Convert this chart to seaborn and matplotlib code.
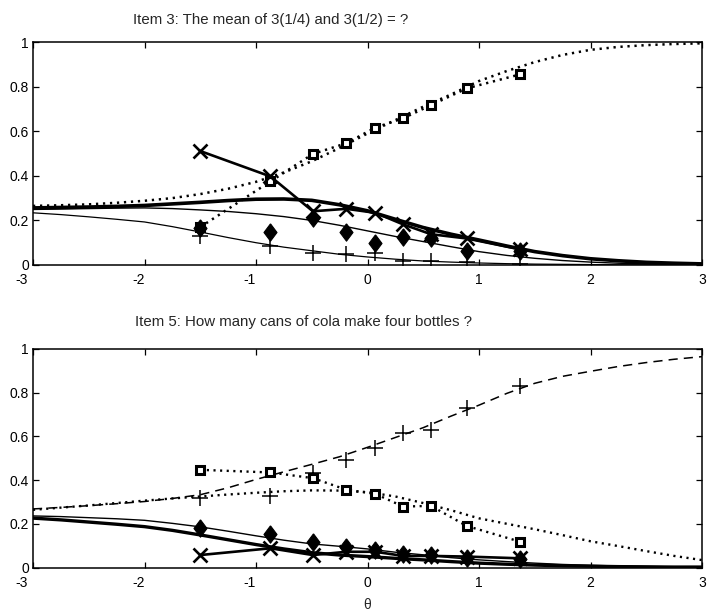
import matplotlib
matplotlib.use("Agg")
import matplotlib.pyplot as plt
from matplotlib.transforms import ScaledTranslation
import seaborn as sns

# Ability scale on which the option-response curves are evaluated
theta_grid = [-3.0, -2.75, -2.5, -2.25, -2.0, -1.75, -1.5, -1.25, -1.0, -0.75, -0.5, -0.25,
              0.0, 0.25, 0.5, 0.75, 1.0, 1.25, 1.5, 1.75, 2.0, 2.25, 2.5, 2.75, 3.0]

# Ability-group means for the observed proportions
group_theta = [-1.50, -0.87, -0.49, -0.19, 0.07, 0.32, 0.57, 0.89, 1.37]

# Item 3: model curves per option
item3_square_curve = [0.265, 0.268, 0.272, 0.279, 0.288, 0.300, 0.318, 0.342, 0.373, 0.415, 0.465, 0.525,
                      0.590, 0.650, 0.710, 0.765, 0.825, 0.870, 0.910, 0.942, 0.965, 0.978, 0.986, 0.991, 0.994]
item3_x_curve = [0.256, 0.258, 0.260, 0.263, 0.267, 0.274, 0.281, 0.289, 0.295, 0.296, 0.290, 0.270,
                 0.243, 0.205, 0.168, 0.138, 0.112, 0.085, 0.060, 0.042, 0.028, 0.019, 0.012, 0.008, 0.005]
item3_diamond_curve = [0.249, 0.251, 0.253, 0.255, 0.256, 0.253, 0.247, 0.240, 0.230, 0.217, 0.200, 0.178,
                       0.153, 0.128, 0.105, 0.082, 0.060, 0.043, 0.030, 0.020, 0.013, 0.008, 0.005, 0.003, 0.002]
item3_plus_curve = [0.234, 0.226, 0.216, 0.205, 0.193, 0.172, 0.148, 0.123, 0.100, 0.080, 0.064, 0.048,
                    0.036, 0.026, 0.018, 0.013, 0.009, 0.006, 0.004, 0.003, 0.002, 0.001, 0.001, 0.000, 0.000]

# Item 3: observed proportions per option
item3_square_obs = [0.170, 0.375, 0.498, 0.546, 0.616, 0.658, 0.717, 0.792, 0.855]
item3_x_obs = [0.511, 0.397, 0.241, 0.252, 0.234, 0.182, 0.138, 0.119, 0.070]
item3_diamond_obs = [0.165, 0.148, 0.212, 0.148, 0.098, 0.127, 0.119, 0.064, 0.062]
item3_plus_obs = [0.130, 0.086, 0.056, 0.049, 0.056, 0.019, 0.019, 0.012, 0.005]

# Item 5: model curves per option
item5_plus_curve = [0.268, 0.275, 0.283, 0.292, 0.302, 0.316, 0.333, 0.365, 0.403, 0.438, 0.472, 0.507,
                    0.550, 0.595, 0.640, 0.693, 0.743, 0.797, 0.843, 0.875, 0.898, 0.920, 0.938, 0.953, 0.965]
item5_square_curve = [0.264, 0.274, 0.284, 0.295, 0.306, 0.316, 0.325, 0.334, 0.342, 0.349, 0.353, 0.352,
                      0.345, 0.325, 0.295, 0.262, 0.225, 0.200, 0.175, 0.148, 0.120, 0.098, 0.075, 0.053, 0.034]
item5_diamond_curve = [0.236, 0.233, 0.228, 0.223, 0.216, 0.202, 0.186, 0.166, 0.145, 0.125, 0.108, 0.097,
                       0.085, 0.070, 0.058, 0.045, 0.035, 0.027, 0.020, 0.014, 0.010, 0.007, 0.005, 0.003, 0.002]
item5_x_curve = [0.226, 0.218, 0.208, 0.198, 0.187, 0.170, 0.149, 0.127, 0.105, 0.085, 0.068, 0.057,
                 0.050, 0.042, 0.035, 0.027, 0.020, 0.015, 0.011, 0.008, 0.006, 0.004, 0.003, 0.002, 0.002]

# Item 5: observed proportions per option
item5_plus_obs = [0.317, 0.325, 0.432, 0.493, 0.547, 0.616, 0.628, 0.730, 0.829]
item5_square_obs = [0.447, 0.435, 0.409, 0.356, 0.337, 0.279, 0.282, 0.190, 0.118]
item5_diamond_obs = [0.180, 0.153, 0.118, 0.095, 0.080, 0.062, 0.058, 0.045, 0.040]
item5_x_obs = [0.057, 0.088, 0.057, 0.072, 0.072, 0.053, 0.053, 0.050, 0.042]

x_ticks = [-3, -2, -1, 0, 1, 2, 3]
x_tick_labels = ["-3", "-2", "-1", "0", "1", "2", "3"]
y_ticks = [0, 0.2, 0.4, 0.6, 0.8, 1.0]
y_tick_labels = ["0", "0.2", "0.4", "0.6", "0.8", "1"]

titles = ["Item 3: The mean of 3(1/4) and 3(1/2) = ?",
          "Item 5: How many cans of cola make four bottles ?"]

sns.set_style("ticks")
plt.rcParams["font.family"] = ["Liberation Sans", "DejaVu Sans"]
plt.rcParams["axes.unicode_minus"] = False

DOT = (0, (0.9, 1.9))
DASH = (0, (6.0, 4.0))
K = "black"
# a filled diamond a little wider than matplotlib's thin "d"
DIAMOND = [(0, 1), (0.75, 0), (0, -1), (-0.75, 0), (0, 1)]

fig = plt.figure(figsize=(7.09, 6.14), dpi=100)
W, H = 709.0, 614.0


def make_axes(left, top, right, bottom):
    return fig.add_axes([left / W, 1 - bottom / H, (right - left) / W, (bottom - top) / H])


ax_top = make_axes(33, 42, 702, 265)
ax_bot = make_axes(33, 349, 702, 567.5)


def curve(ax, y, **kw):
    sns.lineplot(x=theta_grid, y=y, ax=ax, color=K, sort=False, legend=False, **kw)


def observed(ax, y, marker, ms, mew, linestyle="none", lw=0.0, mfc="none"):
    sns.lineplot(x=group_theta, y=y, ax=ax, color=K, sort=False, legend=False,
                 marker=marker, markersize=ms, markeredgewidth=mew, markerfacecolor=mfc,
                 markeredgecolor=K, linestyle=linestyle, linewidth=lw)


# ---- Item 3 ----
curve(ax_top, item3_square_curve, linestyle=DOT, linewidth=1.8)
curve(ax_top, item3_x_curve, linestyle="-", linewidth=2.6)
curve(ax_top, item3_diamond_curve, linestyle="-", linewidth=1.0)
curve(ax_top, item3_plus_curve, linestyle="-", linewidth=0.9)
observed(ax_top, item3_plus_obs, "+", 12, 1.1)
observed(ax_top, item3_square_obs, "s", 5.3, 2.2, linestyle=DOT, lw=1.8, mfc="white")
observed(ax_top, item3_diamond_obs, DIAMOND, 12.5, 0.8, mfc=K)
observed(ax_top, item3_x_obs, "x", 9.5, 1.9, linestyle="-", lw=1.9)

# ---- Item 5 ----
curve(ax_bot, item5_plus_curve, linestyle=DASH, linewidth=1.1)
curve(ax_bot, item5_square_curve, linestyle=DOT, linewidth=1.7)
curve(ax_bot, item5_diamond_curve, linestyle="-", linewidth=1.0)
curve(ax_bot, item5_x_curve, linestyle="-", linewidth=2.4)
observed(ax_bot, item5_plus_obs, "+", 12, 1.1)
observed(ax_bot, item5_square_obs, "s", 5.3, 2.2, linestyle=DOT, lw=1.7, mfc="white")
observed(ax_bot, item5_diamond_obs, DIAMOND, 12.5, 0.8, mfc=K)
observed(ax_bot, item5_x_obs, "x", 9.5, 1.9, linestyle="-", lw=1.9)

for ax in (ax_top, ax_bot):
    ax.set_xlim(-3, 3)
    ax.set_ylim(0, 1)
    ax.set_xticks(x_ticks)
    ax.set_xticklabels(x_tick_labels)
    ax.set_yticks(y_ticks)
    ax.set_yticklabels(y_tick_labels)
    ax.tick_params(direction="in", length=4, width=0.9, top=True, right=True,
                   labelsize=10, colors=K)
    ax.tick_params(axis="x", pad=6)
    ax.tick_params(axis="y", pad=3)
    # negative labels sit with their digit against the tick
    for lab in ax.get_xticklabels():
        if lab.get_text().startswith("-"):
            lab.set_horizontalalignment("right")
            shift = -5 if lab.get_text() == "-3" else 0
            lab.set_transform(lab.get_transform() + ScaledTranslation(shift / 100, 0, fig.dpi_scale_trans))
    for s in ax.spines.values():
        s.set_visible(True)
        s.set_linewidth(1.1)
        s.set_color(K)
    ax.set_xlabel("")
    ax.set_ylabel("")

ax_bot.set_xlabel("\u03b8", fontsize=10, labelpad=6)

fig.text(133 / W, 1 - 20 / H, titles[0], fontsize=10.8, ha="left", va="center")
fig.text(135 / W, 1 - 322 / H, titles[1], fontsize=10.8, ha="left", va="center")

fig.savefig("out.png", dpi=100, facecolor="white")
